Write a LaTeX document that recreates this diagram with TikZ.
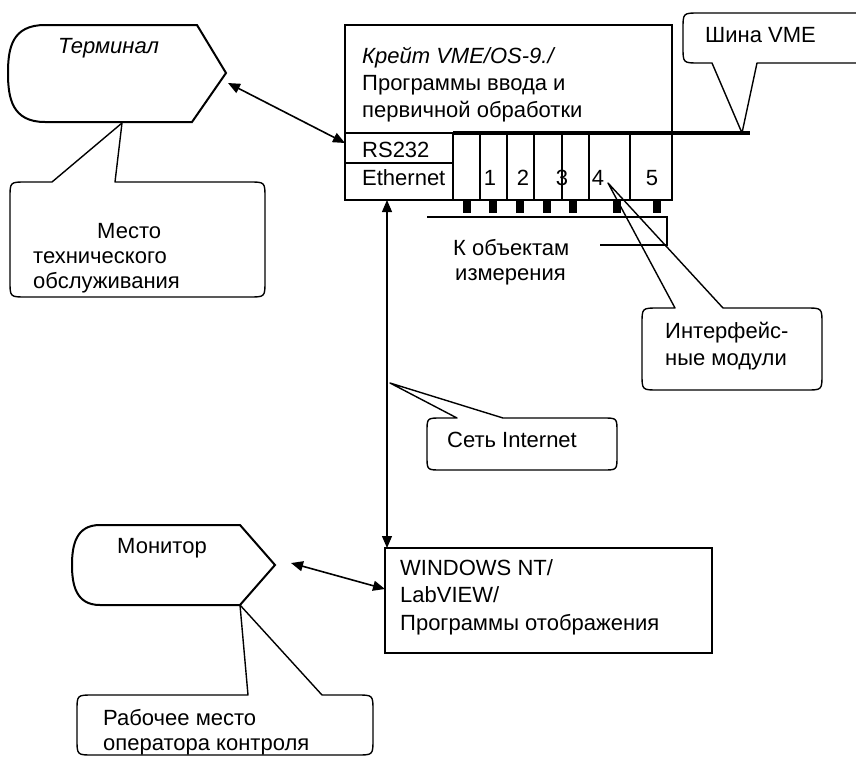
\documentclass[tikz,border=0pt]{standalone}
\usepackage{fontspec}
\setmainfont{Liberation Sans}
\usetikzlibrary{arrows.meta}
\begin{document}
\begin{tikzpicture}[x=1pt,y=-1pt,
  font=\fontsize{22}{26}\selectfont,
  txt/.style={anchor=base west, inner sep=0pt},
  num/.style={anchor=base, inner sep=0pt},
  shp/.style={line width=2pt, line join=miter},
  call/.style={line width=1.4pt, line join=round},
  tip/.style={Triangle[length=12pt,width=10pt]},
  dbl/.style={{Triangle[length=12pt,width=10pt]}-{Triangle[length=12pt,width=10pt]}, line width=1.6pt},
  bus/.style={line width=3.5pt},
  pin/.style={fill=black}]
\clip (0,0) rectangle (856,758);
\fill[white] (0,0) rectangle (856,758);

% ---------- Terminal (display shape)
\coordinate (termTip) at (226,73);
\draw[shp] (197,25) -- (termTip) -- (192,122) -- (45,122)
  .. controls (12,122) and (8,98) .. (8,73)
  .. controls (8,48) and (12,25) .. (45,25) -- cycle;
\node[txt] (term) at (58,53) {\itshape Терминал};

% callout: Место технического обслуживания
\coordinate (termBot) at (122,123);
\draw[call] (115,182) -- (249,182) .. controls (265,182) .. (265,198) -- (265,281)
  .. controls (265,297) .. (249,297) -- (26,297) .. controls (10,297) .. (10,281)
  -- (10,198) .. controls (10,182) .. (26,182) -- (52,182) -- (termBot) -- cycle;
\node[txt] (m1) at (97,238) {Место};
\node[txt] (m2) at (33,263) {технического};
\node[txt] (m3) at (33,288) {обслуживания};

% ---------- Crate
\draw[shp] (345,25) rectangle (672,200);
\draw[shp] (345,133) -- (453,133);
\draw[shp] (345,163) -- (453,163);
\draw[shp] (453,133) -- (453,200);
\foreach \x in {480,507,534,562,589,630} \draw[line width=1.3pt] (\x,133) -- (\x,200);
\draw[bus] (453,133) -- (750,133);
\node[txt] (c1) at (362,63) {\itshape Крейт VME/OS-9./};
\node[txt] (c2) at (362,90) {Программы ввода и};
\node[txt] (c3) at (362,117) {первичной обработки};
\node[txt] (rs) at (362,157) {RS232};
\node[txt] (eth) at (362,185) {Ethernet};
\node[num] (s1) at (490,185) {1};
\node[num] (s2) at (523,185) {2};
\node[num] (s3) at (562,185) {3};
\node[num] (s4) at (598,185) {4};
\node[num] (s5) at (652,185) {5};
\foreach \x in {467,493,520,547,573,617,657} \fill[pin] (\x-4,200) rectangle (\x+4,213);

% bracket to objects
\draw[line width=1.3pt] (427,217) -- (667,217) -- (667,245) -- (600,245);
\node[txt] (o1) at (453,255) {К объектам};
\node[txt] (o2) at (455,280) {измерения};

% callout: Шина VME
\coordinate (busPt) at (742,133);
\draw[call] (712,63) -- (699,63) .. controls (683,63) .. (683,47) -- (683,29)
  .. controls (683,13) .. (699,13) -- (880,13) -- (880,63) -- (757,63) -- (busPt) -- cycle;
\node[txt] (bus) at (705,42) {Шина VME};

% callout: Интерфейсные модули
\coordinate (modPt) at (608,183);
\draw[call] (723,308) -- (806,308) .. controls (822,308) .. (822,324) -- (822,374)
  .. controls (822,390) .. (806,390) -- (658,390) .. controls (642,390) .. (642,374)
  -- (642,324) .. controls (642,308) .. (658,308) -- (675,308) -- (modPt) -- cycle;
\node[txt] (i1) at (665,338) {Интерфейс-};
\node[txt] (i2) at (665,365) {ные модули};

% ---------- arrows
\coordinate (rsL) at (345,143);
\coordinate (termA) at (228,83);
\draw[dbl] (termA) -- (rsL);

\coordinate (ethB) at (387,200);
\coordinate (winT) at (387,548);
\draw[{Triangle[length=12pt,width=10pt]}-{Triangle[length=12pt,width=10pt]}, line width=1.1pt] (ethB) -- (winT);

% callout: Сеть Internet
\coordinate (netPt) at (390,383);
\draw[call] (503,418) -- (603,418) .. controls (617,418) .. (617,432) -- (617,456)
  .. controls (617,470) .. (603,470) -- (441,470) .. controls (427,470) .. (427,456)
  -- (427,432) .. controls (427,418) .. (441,418) -- (457,418) -- (netPt) -- cycle;
\node[txt] (net) at (447,447) {Сеть Internet};

% ---------- WINDOWS box
\draw[shp] (385,548) rectangle (712,653);
\node[txt] (w1) at (400,575) {WINDOWS NT/};
\node[txt] (w2) at (400,602) {LabVIEW/};
\node[txt] (w3) at (400,630) {Программы отображения};

% ---------- Monitor (display shape)
\coordinate (monTip) at (275,565);
\draw[shp] (240,525) -- (monTip) -- (240,605) -- (100,605)
  .. controls (76,605) and (72,585) .. (72,565)
  .. controls (72,545) and (76,525) .. (100,525) -- cycle;
\node[txt] (mon) at (117,553) {Монитор};

\coordinate (monA) at (291,563);
\coordinate (winL) at (385,589);
\draw[dbl] (monA) -- (winL);

% callout: Рабочее место оператора контроля
\coordinate (monBot) at (240,605);
\draw[call] (322,695) -- (357,695) .. controls (373,695) .. (373,711) -- (373,739)
  .. controls (373,755) .. (357,755) -- (93,755) .. controls (77,755) .. (77,739)
  -- (77,711) .. controls (77,695) .. (93,695) -- (248,695) -- (monBot) -- cycle;
\node[txt] (r1) at (103,725) {Рабочее место};
\node[txt] (r2) at (103,750) {оператора контроля};
\end{tikzpicture}
\end{document}
